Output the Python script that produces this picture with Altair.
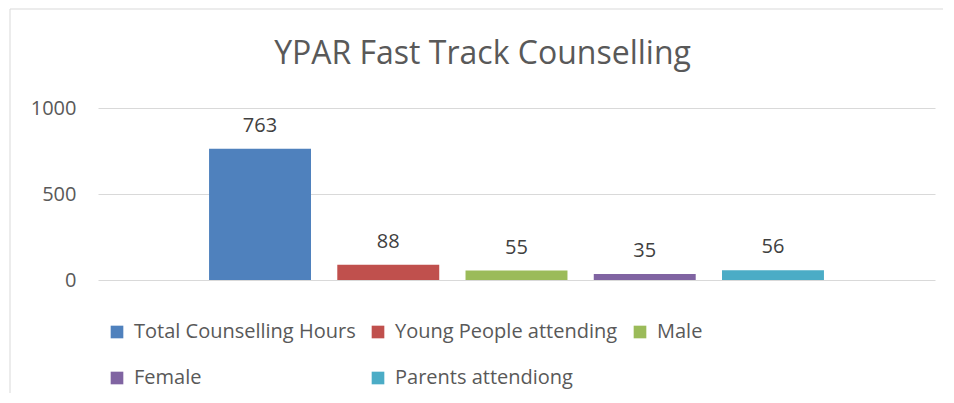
import altair as alt
import pandas as pd

series = ["Total Counselling Hours", "Young People attending", "Male", "Female", "Parents attendiong"]
values = [763, 88, 55, 35, 56]
colors = ["#4F81BD", "#C0504D", "#9BBB59", "#8064A2", "#4BACC6"]
y_ticks = [0, 500, 1000]
title_text = "YPAR Fast Track Counselling"

df = pd.DataFrame({"series": series, "value": values})
tdf = pd.DataFrame({"t": [title_text]})

FONT = "Open Sans"
xscale = alt.Scale(paddingInner=0.205, paddingOuter=0.866)

y_enc = alt.Y("value:Q", scale=alt.Scale(domain=[0, 1000]),
              axis=alt.Axis(values=y_ticks, title=None, domain=False, ticks=False, format="d",
                            labelFontSize=20, labelColor="#595959", labelFont=FONT,
                            labelPadding=22, grid=True, gridColor="#D9D9D9", gridWidth=1))

border_top = alt.Chart(tdf).mark_rule(stroke="#D9D9D9", strokeWidth=1).encode(
    x=alt.value(-88), x2=alt.value(845), y=alt.value(-99)
)
border_left = alt.Chart(tdf).mark_rule(stroke="#D9D9D9", strokeWidth=1).encode(
    x=alt.value(-88), y=alt.value(-99), y2=alt.value(300)
)

title = alt.Chart(tdf).mark_text(fontSize=32, font=FONT, color="#595959",
                                 align="center", baseline="alphabetic").encode(
    x=alt.value(384.5), y=alt.value(-44), text="t:N"
)

bars = alt.Chart(df).mark_bar().encode(
    x=alt.X("series:N", sort=series, axis=None, scale=xscale),
    y=y_enc,
    color=alt.Color("series:N", sort=series,
                    scale=alt.Scale(domain=series, range=colors),
                    legend=alt.Legend(title=None, orient="none", legendX=9, legendY=214,
                                      direction="horizontal",
                                      columns=3, symbolType="square", symbolSize=160,
                                      symbolStrokeWidth=0, labelFontSize=20, labelFont=FONT,
                                      labelColor="#595959", labelOffset=7, columnPadding=12,
                                      rowPadding=26, labelLimit=400)),
)

labels = alt.Chart(df).mark_text(fontSize=20, font=FONT, color="#404040",
                                 baseline="alphabetic", dy=-17).encode(
    x=alt.X("series:N", sort=series, scale=xscale),
    y="value:Q",
    text="value:Q",
)

chart = alt.layer(border_top, border_left, title, bars, labels).properties(
    width=837, height=172,
    padding={"left": 90, "top": 100, "right": 8, "bottom": 113},
    autosize=alt.AutoSizeParams(type="none"),
).configure_view(stroke=None)

chart.save("out.html", embed_options={"renderer": "svg", "actions": False})
